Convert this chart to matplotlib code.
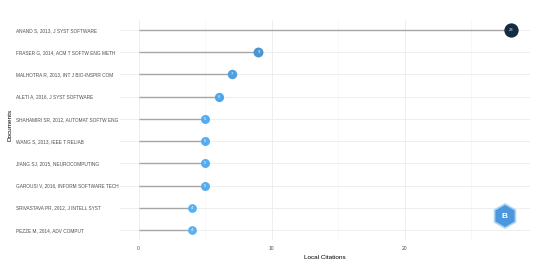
import numpy as np
import matplotlib
matplotlib.use("Agg")
import matplotlib.pyplot as plt
from matplotlib.colors import LinearSegmentedColormap
from matplotlib.patches import RegularPolygon

plt.rcParams['font.family'] = ['Liberation Sans', 'DejaVu Sans']

docs = ["ANAND S, 2013, J SYST SOFTWARE",
        "FRASER G, 2014, ACM T SOFTW ENG METH",
        "MALHOTRA R, 2013, INT J BIO-INSPIR COM",
        "ALETI A, 2016, J SYST SOFTWARE",
        "SHAHAMIRI SR, 2012, AUTOMAT SOFTW ENG",
        "WANG S, 2013, IEEE T RELIAB",
        "JIANG SJ, 2015, NEUROCOMPUTING",
        "GAROUSI V, 2016, INFORM SOFTWARE TECH",
        "SRIVASTAVA PR, 2012, J INTELL SYST",
        "PEZZE M, 2014, ADV COMPUT"]
cites = [28, 9, 7, 6, 5, 5, 5, 5, 4, 4]

fig = plt.figure(figsize=(5.5, 2.67), dpi=100)
ax = fig.add_axes([120/550, 1-240/267, 410/550, 220/267])

ypos = np.arange(len(docs))[::-1]
cmap = LinearSegmentedColormap.from_list("g", ["#56B1F7", "#132B43"])
vmin, vmax = min(cites), max(cites)

for y, v in zip(ypos, cites):
    ax.plot([0, v], [y, y], color="#a6a6a6", lw=1.0, zorder=2, solid_capstyle="butt")
    t = (v - vmin) / (vmax - vmin)
    ms = 6.3 + 4 * t
    ax.plot(v, y, "o", ms=ms, color=cmap(t), mec="none", zorder=3)
    ax.text(v, y, str(v), color="white", fontsize=3.0, ha="center", va="center", zorder=4)

ax.set_xlim(-1.4, 29.4)
ax.set_ylim(-0.45, len(docs) - 0.55)
ax.set_xticks([0, 10, 20])
ax.set_xticks([5, 15, 25], minor=True)
ax.set_yticks(ypos)
ax.set_yticklabels(docs)
for lab in ax.get_yticklabels():
    lab.set_horizontalalignment("left")
ax.tick_params(axis="y", length=0, pad=75, labelsize=3.45, labelcolor="#4d4d4d")
ax.tick_params(axis="x", which="both", length=0, labelsize=3.6, labelcolor="#4d4d4d", pad=4)
ax.grid(True, which="major", color="#ebebeb", lw=0.6, zorder=0)
ax.grid(True, which="minor", axis="x", color="#f3f3f3", lw=0.4, zorder=0)
for s in ax.spines.values():
    s.set_visible(False)
ax.set_xlabel("Local Citations", fontsize=4.6, labelpad=3)
fig.text(10/550, 1-125/267, "Documents", rotation=90, fontsize=4.6, ha="center", va="center")

# logo
fig.patches.append(RegularPolygon((505, 51), 6, radius=12, transform=None,
                                  facecolor="#4a97dd", edgecolor="#a9d4f5", lw=1.2))
fig.text(505/550, 51/267, "B", color="white", fontsize=6, ha="center", va="center", weight="bold")

fig.savefig("out.png", dpi=100)
